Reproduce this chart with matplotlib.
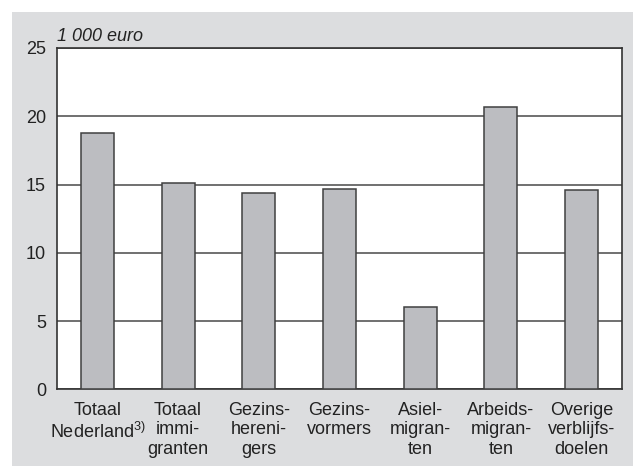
import matplotlib
matplotlib.use('Agg')
import matplotlib.pyplot as plt
from matplotlib.patches import Rectangle
import numpy as np

plt.rcParams['font.family'] = ['Liberation Sans', 'DejaVu Sans']
plt.rcParams['mathtext.fontset'] = 'custom'
plt.rcParams['mathtext.rm'] = 'Liberation Sans'

#%% data

categories = ['Totaal\nNederland$^{3)}$', 'Totaal\nimmi-\ngranten', 'Gezins-\nhereni-\ngers',
              'Gezins-\nvormers', 'Asiel-\nmigran-\nten', 'Arbeids-\nmigran-\nten',
              'Overige\nverblijfs-\ndoelen']
values = [18.8, 15.1, 14.4, 14.7, 6.0, 20.7, 14.6]
yticks = [0, 5, 10, 15, 20, 25]

#%% plot

fig = plt.figure(figsize=(6.33, 4.66), dpi=100)

# grey panel behind the chart
fig.patches.append(Rectangle((12/633, 0), 1 - 12/633, 1 - 12/466,
                             transform=fig.transFigure, facecolor='#dcdddf',
                             edgecolor='none', zorder=-10))

ax = fig.add_axes([57/633, 1 - 389.3/466, (622 - 57)/633, (389.3 - 48)/466])
ax.set_facecolor('white')

x = np.arange(len(values))
ax.bar(x, values, width=0.41, color='#bcbdc1', edgecolor='#404040',
       linewidth=1.1, zorder=3)

ax.set_xlim(-0.5, len(values) - 0.5)
ax.set_ylim(0, 25)
ax.set_yticks(yticks)
ax.set_yticklabels([str(t) for t in yticks], fontsize=13, color='#222222')
ax.set_xticks(x)
ax.set_xticklabels(categories, fontsize=13, color='#222222', linespacing=1.2,
                   va='top')
ax.tick_params(axis='both', length=0)
ax.tick_params(axis='y', pad=8)
ax.tick_params(axis='x', pad=9)

ax.yaxis.grid(True, color='#707070', linewidth=1.4, zorder=1)
ax.set_axisbelow(True)
for s in ax.spines.values():
    s.set_color('#333333')
    s.set_linewidth(1.2)

ax.text(0, 1.008, '1 000 euro', transform=ax.transAxes, fontsize=13,
        style='italic', color='#222222', va='bottom', ha='left')

fig.savefig('out.png', dpi=100)
